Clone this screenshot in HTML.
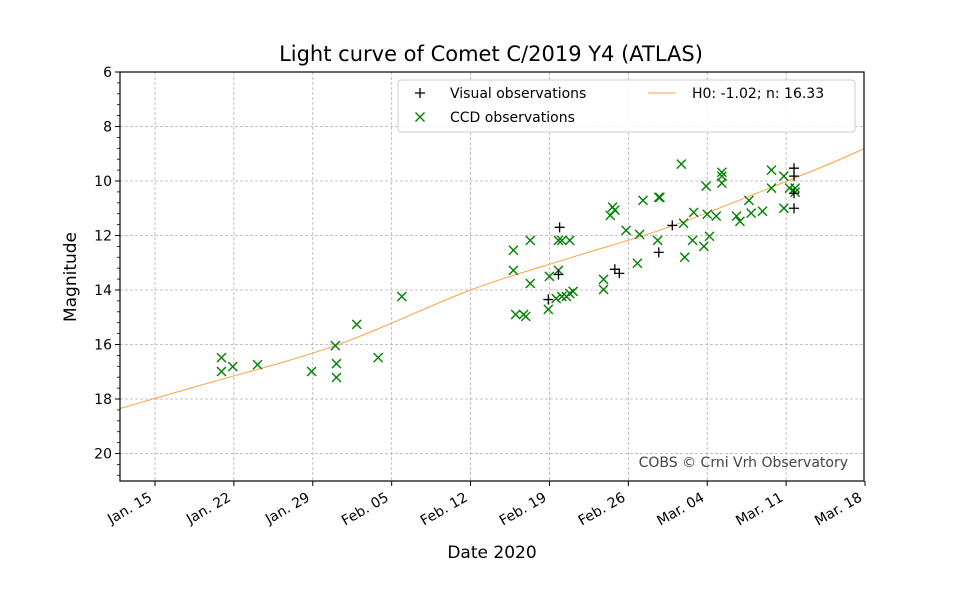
<!DOCTYPE html>
<html><head><meta charset="utf-8"><style>
body{margin:0;background:#fff;}
svg{display:block;font-family:"DejaVu Sans","Liberation Sans",sans-serif;}
</style></head><body>
<svg id="chart" width="960" height="600"></svg>
<script>
const xTickDays=[15,22,29,36,43,50,57,64,71,78];
const xTickLabels=["Jan. 15","Jan. 22","Jan. 29","Feb. 05","Feb. 12","Feb. 19","Feb. 26","Mar. 04","Mar. 11","Mar. 18"];
const yTicks=[6,8,10,12,14,16,18,20];
const ccdDays=[20.9,20.9,21.9,24.1,28.9,31.0,31.1,31.1,32.9,34.8,36.9,46.8,46.8,47.0,47.7,47.9,48.3,48.3,49.9,50.0,50.6,50.8,50.8,51.1,51.1,51.5,51.8,51.8,52.1,54.8,54.8,55.4,55.6,55.8,56.8,57.8,58.0,58.3,59.6,59.7,59.8,61.7,61.9,62.0,62.7,62.8,63.7,63.9,64.0,64.2,64.8,65.3,65.3,65.3,66.6,66.9,67.7,67.9,68.9,69.7,69.7,70.8,70.8,71.3,71.8,71.8];
const ccdMags=[16.48,16.99,16.81,16.74,16.99,16.04,16.70,17.21,15.26,16.48,14.24,12.54,13.28,14.90,14.90,14.97,12.18,13.76,14.71,13.50,14.31,13.28,12.18,12.18,14.24,14.24,14.13,12.18,14.05,13.98,13.61,11.26,10.96,11.07,11.81,13.02,11.96,10.71,12.18,10.60,10.60,9.38,11.55,12.80,12.18,11.15,12.40,10.19,11.22,12.03,11.29,9.68,9.82,10.08,11.29,11.48,10.71,11.18,11.11,9.60,10.26,11.0,9.82,10.26,10.26,10.41];
const visDays=[49.9,50.9,50.8,55.8,56.2,59.7,60.9,71.7,71.7,71.7,71.7];
const visMags=[14.35,11.70,13.43,13.24,13.39,12.62,11.63,9.53,9.82,10.45,11.0];
const fitDays=[11.9,19,31,43,52,61,73.5,78];
const fitMags=[18.35,17.5,16.04,14.0,12.8,11.63,9.6,8.8];

const NS="http://www.w3.org/2000/svg";
const svg=document.getElementById('chart');
const L=120,R=864,T=72,B=481;
const X=d=>155+(d-15)*11.27;
const Y=m=>T+(m-6)*27.25;
function el(t,a,p){const e=document.createElementNS(NS,t);for(const k in a)e.setAttribute(k,a[k]);(p||svg).appendChild(e);return e;}

const title=el('text',{x:491,y:61,'text-anchor':'middle','font-size':21});title.textContent='Light curve of Comet C/2019 Y4 (ATLAS)';


const grid=el('g',{stroke:'#b0b0b0','stroke-dasharray':'3,2','stroke-width':0.8});

xTickDays.forEach(d=>{if(X(d)>L&&X(d)<R)el('line',{x1:X(d),x2:X(d),y1:T,y2:B},grid);});
yTicks.forEach(m=>{if(Y(m)>T)el('line',{x1:L,x2:R,y1:Y(m),y2:Y(m)},grid);});

const clip=el('clipPath',{id:'pc'});el('rect',{x:L,y:T,width:R-L,height:B-T},clip);

// smooth Catmull-Rom curve through fit points
const fp=fitDays.map((d,i)=>[X(d),Y(fitMags[i])]);
let dstr=`M${fp[0][0]},${fp[0][1]}`;
for(let i=0;i<fp.length-1;i++){const p0=fp[Math.max(0,i-1)],p1=fp[i],p2=fp[i+1],p3=fp[Math.min(fp.length-1,i+2)];
 const c1=[p1[0]+(p2[0]-p0[0])/6,p1[1]+(p2[1]-p0[1])/6],c2=[p2[0]-(p3[0]-p1[0])/6,p2[1]-(p3[1]-p1[1])/6];
 dstr+=`C${c1[0]},${c1[1]} ${c2[0]},${c2[1]} ${p2[0]},${p2[1]}`;}
const fit=el('path',{d:dstr,fill:'none',stroke:'#ffa040','stroke-width':1,'clip-path':'url(#pc)'});


const ccd=el('g',{stroke:'#008000','stroke-width':1.4});

ccdDays.forEach((d,i)=>{const x=X(d),y=Y(ccdMags[i]),s=4.5;
 const p=el('path',{d:`M${x-s},${y-s}L${x+s},${y+s}M${x-s},${y+s}L${x+s},${y-s}`},ccd);
 });
const vis=el('g',{stroke:'#000','stroke-width':1.3});

visDays.forEach((d,i)=>{const x=X(d),y=Y(visMags[i]),s=5;
 const p=el('path',{d:`M${x-s},${y}L${x+s},${y}M${x},${y-s}L${x},${y+s}`},vis);
 });

const frame=el('rect',{x:L,y:T,width:R-L,height:B-T,fill:'none',stroke:'#000','stroke-width':1.2});


const ax=el('g',{'font-size':14,fill:'#000'});

xTickDays.forEach((d,i)=>{const x=X(d);el('line',{x1:x,x2:x,y1:B,y2:B+5,stroke:'#000'},ax);
 const ax_=x-2,ay=B+19;
 const t=el('text',{x:ax_,y:ay,'text-anchor':'end',transform:`rotate(-30 ${ax_} ${ay})`},ax);t.textContent=xTickLabels[i];
 });
yTicks.forEach(m=>{const y=Y(m);el('line',{x1:L-5,x2:L,y1:y,y2:y,stroke:'#000'},ax);
 const t=el('text',{x:L-8,y:y+5,'text-anchor':'end'},ax);t.textContent=m;
 });
for(let m=6;m<=21.01;m+=0.4){el('line',{x1:L-3,x2:L,y1:Y(m),y2:Y(m),stroke:'#000','stroke-width':0.8},ax);}

const xt=el('text',{x:492,y:558,'text-anchor':'middle','font-size':17});xt.textContent='Date 2020';

const yt=el('text',{x:76,y:277,'text-anchor':'middle','font-size':17,transform:'rotate(-90 76 277)'});yt.textContent='Magnitude';


const lg=el('g',{'font-size':14});

el('rect',{x:398,y:80,width:457,height:52,fill:'#fff','fill-opacity':0.85,stroke:'#ccc',rx:3},lg);
el('path',{d:'M415,93L425,93M420,88L420,98',stroke:'#000','stroke-width':1.3},lg);
let t1=el('text',{x:450,y:98},lg);t1.textContent='Visual observations';

el('path',{d:'M415.5,112.5L424.5,121.5M415.5,121.5L424.5,112.5',stroke:'#008000','stroke-width':1.4},lg);
let t2=el('text',{x:450,y:122},lg);t2.textContent='CCD observations';

el('line',{x1:648,x2:676,y1:93,y2:93,stroke:'#ffa040'},lg);
let t3=el('text',{x:692,y:98},lg);t3.textContent='H0: -1.02; n: 16.33';


const cr=el('text',{x:848,y:467,'text-anchor':'end','font-size':14,fill:'#444'});cr.textContent='COBS © Crni Vrh Observatory';

</script>
</body></html>
